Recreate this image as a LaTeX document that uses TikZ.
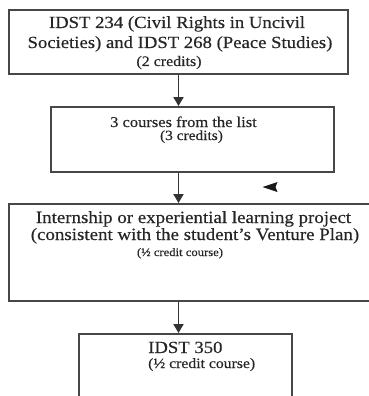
\documentclass[tikz,border=0pt]{standalone}
\usepackage{fontspec}
\setmainfont{Liberation Serif}[FakeStretch=1.1,FakeBold=0.4]
\usetikzlibrary{arrows.meta}
\tikzset{
  box/.style={draw=black!72, line width=1.9pt, inner sep=0pt},
  arr/.style={line width=1.8pt, draw=black!80, -{Triangle[length=9pt,width=10pt]}},
  line/.style={anchor=base, inner sep=0pt, text=black!85},
}
\newcommand{\fs}[1]{\fontsize{#1}{#1}\selectfont}

\begin{document}
\begin{tikzpicture}[x=1pt,y=-1pt]
  \clip (0,0) rectangle (369,396);
  % boxes
  \node[box, minimum width=339pt, minimum height=64pt] (b1) at (178.5,42) {};
  \node[box, minimum width=283pt, minimum height=65pt] (b2) at (192.5,139.5) {};
  \node[box, minimum width=371pt, minimum height=97pt] (b3) at (194.5,252.5) {};
  \node[box, minimum width=213pt, minimum height=76pt] (b4) at (185.5,372) {};
  % texts
  \node[line, font={\fs{17}}] (t1a) at (177,28) {IDST 234 (Civil Rights in Uncivil};
  \node[line, font={\fs{17}}] (t1b) at (180,48) {Societies) and IDST 268 (Peace Studies)};
  \node[line, font={\fs{14.5}}] (t1c) at (169,66) {(2 credits)};
  \node[line, font={\fs{15}}] (t2a) at (183.5,127) {3 courses from the list};
  \node[line, font={\fs{14}}] (t2b) at (191.5,140) {(3 credits)};
  \node[line, font={\fs{17.2}}] (t3a) at (193.5,223) {Internship or experiential learning project};
  \node[line, font={\fs{17.2}}] (t3b) at (195,240) {(consistent with the student’s Venture Plan)};
  \node[line, font={\fs{11.5}}] (t3c) at (180,256) {(½ credit course)};
  \node[line, font={\fs{17}}, anchor=base west] (t4a) at (148,353) {IDST 350};
  \node[line, font={\fs{14.3}}, anchor=base west] (t4b) at (148,368) {(½ credit course)};
  % arrows
  \begin{scope}[arr]
    \draw (b1.south) -- (b1.south |- b2.north);
    \draw (b1.south |- b2.south) -- (b1.south |- b3.north);
    \draw (b1.south |- b3.south) -- (b1.south |- b4.north);
  \end{scope}
  \fill[black!90] (262.5,187) -- (277.5,182) -- (275.5,187) -- (277.5,192) -- cycle;
\end{tikzpicture}
\end{document}
